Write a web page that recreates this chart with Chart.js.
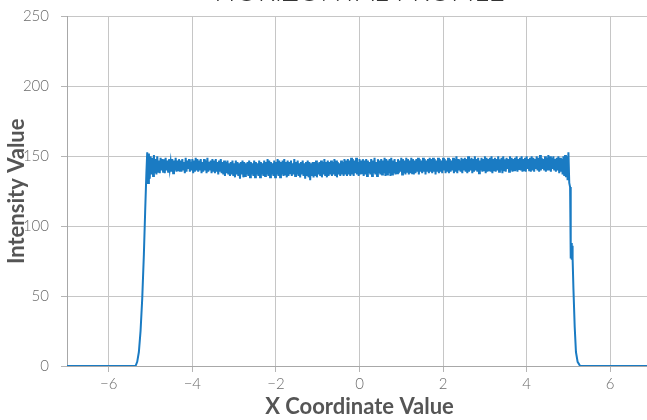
<!DOCTYPE html>
<html>
<head>
<meta charset="utf-8">
<script src="https://cdn.jsdelivr.net/npm/chart.js@4/dist/chart.umd.min.js"></script>
<style>
  html, body { margin: 0; padding: 0; overflow: hidden; background: #fff; }
  #wrap { position: absolute; left: 0; top: -31px; width: 660px; height: 451px; }
</style>
</head>
<body>
<div id="wrap"><canvas id="profile"></canvas></div>
<script>
// rising edge on the left
const leftEdgeX = [-7, -5.36, -5.32, -5.28, -5.24, -5.2, -5.16, -5.13, -5.1];
const leftEdgeY = [0, 0, 3, 10, 25, 48, 80, 110, 138];

// noisy plateau, sampled every 0.02 from -5.08 to 5.04
const plateauStart = -5.08;
const plateauStep = 0.02;
const plateauY = [
  153, 131, 152, 134, 150, 137, 149, 136, 151, 138, 148, 137, 150, 139, 147, 138, 149, 140, 148, 139,
  148, 138, 149, 140, 147, 139, 148, 141, 146, 139, 148, 138, 147, 140, 149, 139, 147, 140, 148, 139,
  147, 139, 148, 140, 146, 138, 149, 139, 147, 141, 148, 139, 146, 140, 148, 138, 147, 139, 149, 140,
  148, 139, 147, 140, 148, 138, 146, 139, 148, 140, 147, 138, 149, 139, 146, 140, 147, 138, 148, 139,
  147, 138, 148, 139, 146, 137, 147, 139, 148, 138, 146, 137, 147, 136, 146, 138, 147, 137, 145, 136,
  146, 137, 147, 136, 145, 135, 147, 137, 146, 136, 145, 134, 146, 137, 147, 135, 146, 136, 145, 137,
  146, 136, 147, 135, 146, 137, 145, 136, 147, 135, 146, 137, 145, 136, 147, 135, 146, 137, 145, 136,
  147, 136, 146, 137, 148, 136, 147, 135, 146, 137, 145, 136, 147, 135, 146, 137, 148, 136, 147, 135,
  146, 137, 147, 136, 148, 137, 146, 135, 147, 136, 146, 138, 147, 136, 145, 137, 148, 136, 146, 137,
  147, 136, 145, 135, 146, 137, 147, 136, 145, 134, 146, 136, 147, 135, 146, 133, 145, 136, 146, 135,
  146, 136, 147, 135, 145, 137, 146, 136, 147, 135, 146, 137, 148, 136, 146, 135, 147, 136, 146, 137,
  147, 136, 146, 137, 148, 136, 147, 135, 146, 137, 145, 136, 147, 137, 146, 136, 148, 137, 147, 136,
  148, 137, 147, 136, 149, 137, 148, 136, 147, 138, 149, 137, 146, 136, 148, 137, 147, 138, 148, 136,
  147, 137, 148, 136, 147, 138, 146, 137, 148, 136, 147, 138, 149, 137, 146, 136, 148, 138, 147, 137,
  148, 137, 147, 138, 149, 136, 148, 137, 147, 138, 148, 136, 149, 137, 147, 138, 148, 137, 146, 138,
  148, 138, 147, 139, 149, 137, 148, 138, 147, 137, 149, 139, 148, 137, 147, 138, 149, 138, 148, 137,
  147, 138, 148, 139, 149, 137, 148, 139, 147, 138, 149, 139, 148, 137, 147, 139, 148, 138, 149, 139,
  148, 138, 149, 139, 148, 137, 147, 139, 149, 138, 148, 139, 147, 138, 149, 140, 148, 138, 147, 139,
  149, 138, 148, 139, 147, 140, 149, 138, 148, 139, 150, 138, 148, 140, 147, 139, 149, 138, 148, 140,
  149, 139, 148, 138, 150, 139, 148, 140, 149, 138, 148, 139, 150, 140, 148, 139, 149, 138, 147, 140,
  149, 139, 148, 140, 150, 138, 149, 139, 148, 140, 149, 139, 150, 138, 148, 140, 149, 139, 148, 140,
  150, 139, 148, 140, 149, 138, 150, 140, 148, 139, 149, 141, 148, 139, 150, 140, 149, 139, 148, 140,
  149, 140, 150, 139, 148, 141, 149, 140, 150, 139, 148, 140, 149, 139, 150, 141, 148, 140, 149, 139,
  150, 140, 149, 139, 148, 141, 150, 140, 149, 139, 151, 140, 149, 141, 148, 140, 150, 139, 149, 140,
  151, 140, 150, 139, 149, 141, 150, 140, 148, 139, 149, 140, 150, 138, 149, 139, 148, 137, 150, 136,
  151, 135, 150, 133, 153, 131, 128
];

// falling edge on the right
const rightEdgeX = [5.05, 5.06, 5.07, 5.08, 5.09, 5.1, 5.12, 5.15, 5.18, 5.22, 5.28, 7];
const rightEdgeY = [87, 77, 88, 76, 86, 77, 55, 28, 10, 3, 0, 0];

const xTicks = [-6, -4, -2, 0, 2, 4, 6];

const points = [];
leftEdgeX.forEach((x, i) => points.push({ x, y: leftEdgeY[i] }));
plateauY.forEach((y, i) => points.push({ x: plateauStart + i * plateauStep, y }));
rightEdgeX.forEach((x, i) => points.push({ x, y: rightEdgeY[i] }));

const tickFont = { family: "Lato", size: 15, weight: "300" };
const axisTitleFont = { family: "Lato", size: 22, weight: "bold", lineHeight: 1 };

new Chart(document.getElementById("profile").getContext("2d"), {
  type: "line",
  data: {
    datasets: [{
      data: points,
      borderColor: "#1a7bc3",
      borderWidth: 2,
      pointRadius: 0,
      tension: 0,
      fill: false,
    }],
  },
  options: {
    animation: false,
    responsive: true,
    maintainAspectRatio: false,
    layout: { padding: { left: 6, right: 8, top: 0, bottom: 2 } },
    plugins: {
      legend: { display: false },
      tooltip: { enabled: false },
      title: {
        display: true,
        fullSize: false,
        text: "HORIZONTAL PROFILE",
        color: "#333",
        font: { family: "Lato", size: 28, weight: "300" },
        padding: { top: 6, bottom: 8 },
      },
    },
    scales: {
      x: {
        type: "linear",
        min: -7,
        max: 7,
        afterBuildTicks: (axis) => { axis.ticks = xTicks.map(v => ({ value: v })); },
        grid: { color: "#c6c6c6", tickLength: 6, tickColor: "#b5b5b5" },
        border: { color: "#a8a8a8" },
        ticks: {
          color: "#6b6b6b",
          font: tickFont,
          padding: 3,
          maxRotation: 0,
          callback: (v) => String(v).replace("-", "\u2212"),
        },
        title: {
          display: true,
          text: "X Coordinate Value",
          color: "#555",
          font: axisTitleFont,
          padding: { top: 0, bottom: 0 },
        },
      },
      y: {
        min: 0,
        max: 250,
        afterFit: (scale) => { scale.width = 61; },
        ticks: { stepSize: 50, color: "#6b6b6b", font: tickFont, padding: 12 },
        grid: { color: "#c6c6c6", tickLength: 6, tickColor: "#b5b5b5" },
        border: { color: "#a8a8a8" },
        title: {
          display: true,
          text: "Intensity Value",
          color: "#555",
          font: axisTitleFont,
          padding: { top: 0, bottom: 0 },
        },
      },
    },
  },
});
</script>
</body>
</html>
